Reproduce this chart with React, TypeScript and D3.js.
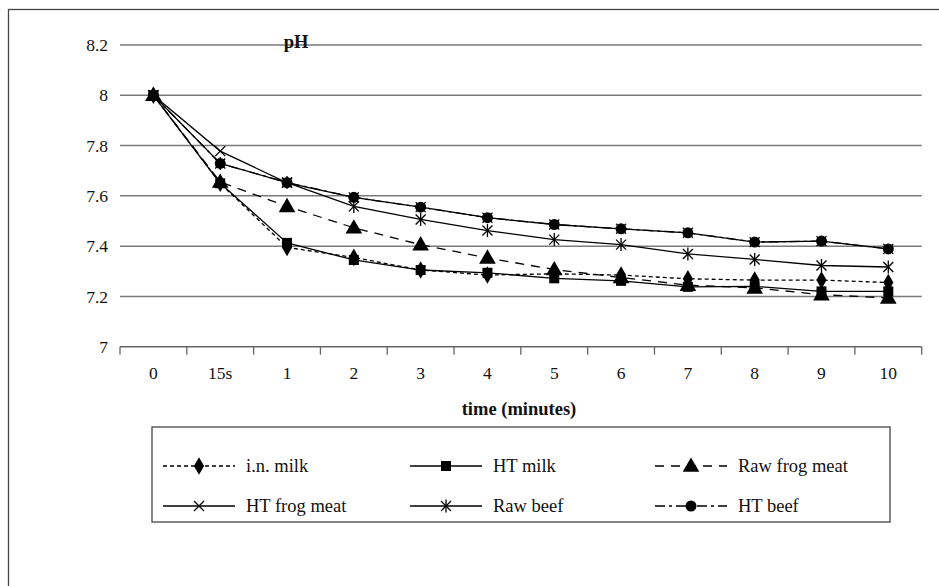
import React from 'react';
import * as d3 from 'd3';

const categories = ['0', '15s', '1', '2', '3', '4', '5', '6', '7', '8', '9', '10'];
const yTickValues = [7, 7.2, 7.4, 7.6, 7.8, 8, 8.2];

const inMilk = [8, 7.65, 7.395, 7.355, 7.305, 7.285, 7.29, 7.285, 7.27, 7.265, 7.265, 7.255];
const htMilk = [8, 7.65, 7.413, 7.345, 7.305, 7.294, 7.272, 7.262, 7.238, 7.24, 7.22, 7.22];
const rawFrogMeat = [8, 7.655, 7.558, 7.473, 7.406, 7.353, 7.307, 7.275, 7.245, 7.234, 7.207, 7.194];
const htFrogMeat = [8, 7.778, 7.652, 7.594, 7.555, 7.513, 7.486, 7.469, 7.453, 7.416, 7.42, 7.389];
const rawBeef = [8, 7.729, 7.653, 7.558, 7.506, 7.462, 7.426, 7.406, 7.369, 7.347, 7.323, 7.317];
const htBeef = [8, 7.729, 7.653, 7.594, 7.555, 7.513, 7.486, 7.469, 7.453, 7.416, 7.42, 7.389];

const seriesNames = ['i.n. milk', 'HT milk', 'Raw frog meat', 'HT frog meat', 'Raw beef', 'HT beef'];

type Marker = 'diamond' | 'square' | 'triangle' | 'x' | 'star' | 'circle';

const series: { name: string; values: number[]; dash: string | undefined; marker: Marker }[] = [
  { name: seriesNames[0], values: inMilk, dash: '4,3', marker: 'diamond' },
  { name: seriesNames[1], values: htMilk, dash: undefined, marker: 'square' },
  { name: seriesNames[2], values: rawFrogMeat, dash: '9,7', marker: 'triangle' },
  { name: seriesNames[3], values: htFrogMeat, dash: undefined, marker: 'x' },
  { name: seriesNames[4], values: rawBeef, dash: undefined, marker: 'star' },
  { name: seriesNames[5], values: htBeef, dash: '10,4,3,4', marker: 'circle' },
];

const W = 939;
const H = 586;
const FONT = '"Liberation Serif", "DejaVu Serif", "Times New Roman", serif';
const plot = { left: 120, right: 921.7, top: 45, bottom: 346.7 };

function MarkerShape({ type, cx, cy }: { type: Marker; cx: number; cy: number }) {
  const sw = 1.3;
  switch (type) {
    case 'diamond':
      return <path d={d3.symbol().type(d3.symbolDiamond).size(90)()!} transform={`translate(${cx},${cy})`} fill="#000" />;
    case 'square':
      return <rect x={cx - 5} y={cy - 5} width={10} height={10} fill="#000" />;
    case 'triangle':
      return <path d={d3.symbol().type(d3.symbolTriangle).size(120)()!} transform={`translate(${cx},${cy + 1})`} fill="#000" />;
    case 'circle':
      return <circle cx={cx} cy={cy} r={5.5} fill="#000" />;
    case 'x':
      return (
        <g stroke="#000" strokeWidth={sw}>
          <line x1={cx - 5} y1={cy - 5} x2={cx + 5} y2={cy + 5} />
          <line x1={cx - 5} y1={cy + 5} x2={cx + 5} y2={cy - 5} />
        </g>
      );
    case 'star':
      return (
        <g stroke="#000" strokeWidth={sw}>
          <line x1={cx - 5} y1={cy - 5} x2={cx + 5} y2={cy + 5} />
          <line x1={cx - 5} y1={cy + 5} x2={cx + 5} y2={cy - 5} />
          <line x1={cx} y1={cy - 6.5} x2={cx} y2={cy + 6.5} />
        </g>
      );
  }
  return null;
}

export default function App() {
  const x = d3.scaleBand<string>().domain(categories).range([plot.left, plot.right]);
  const y = d3.scaleLinear().domain([7, 8.2]).range([plot.bottom, plot.top]);
  const cx = (i: number) => (x(categories[i]) as number) + x.bandwidth() / 2;
  const line = d3
    .line<number>()
    .x((_, i) => cx(i))
    .y((d) => y(d));

  const boundaries = categories.map((c) => x(c) as number).concat([plot.right]);

  const legend = { x: 152, y: 427, w: 738, h: 95 };
  const colX = [163, 410, 655];
  const rowY = [466, 506];
  const sampleLen = 72;
  const ts = { fontFamily: FONT };

  return (
    <svg width={W} height={H} style={{ position: 'absolute', left: 0, top: 0, background: '#fff', fontFamily: FONT }}>
      <rect x={0} y={0} width={W} height={H} fill="#fff" />
      <rect x={8.5} y={9.5} width={W + 20} height={H + 20} fill="none" stroke="#444" strokeWidth={1.3} />

      {yTickValues
        .filter((v) => v > 7)
        .map((v) => (
          <line key={v} x1={plot.left} x2={plot.right} y1={y(v)} y2={y(v)} stroke="#7a7a7a" strokeWidth={1.5} />
        ))}

      {yTickValues.map((v) => (
        <text key={v} x={108} y={y(v)} dy="0.35em" textAnchor="end" fontSize={17.5} fill="#111" style={ts}>
          {d3.format('~g')(v)}
        </text>
      ))}

      <line x1={plot.left} x2={plot.right} y1={plot.bottom} y2={plot.bottom} stroke="#666" strokeWidth={1.5} />
      {boundaries.map((b, i) => (
        <line key={i} x1={b} x2={b} y1={plot.bottom} y2={plot.bottom + 8} stroke="#666" strokeWidth={1.3} />
      ))}
      {categories.map((c, i) => (
        <text key={c} x={cx(i)} y={379} textAnchor="middle" fontSize={17.5} fill="#111" style={ts}>
          {c}
        </text>
      ))}
      <text x={519} y={415} textAnchor="middle" fontSize={18.5} fontWeight="bold" fill="#111" style={ts}>
        time (minutes)
      </text>
      <text x={296} y={48} textAnchor="middle" fontSize={18.5} fontWeight="bold" fill="#111" style={ts}>
        pH
      </text>

      {series.map((s) => (
        <path key={s.name} d={line(s.values)!} fill="none" stroke="#000" strokeWidth={1.3} strokeDasharray={s.dash} />
      ))}
      {series.map((s) => (
        <g key={s.name + '-m'}>
          {s.values.map((v, i) => (
            <MarkerShape key={i} type={s.marker} cx={cx(i)} cy={y(v)} />
          ))}
        </g>
      ))}

      <rect x={legend.x} y={legend.y} width={legend.w} height={legend.h} fill="#fff" stroke="#444" strokeWidth={1.3} />
      {series.map((s, k) => {
        const col = k % 3;
        const row = Math.floor(k / 3);
        const lx = colX[col];
        const ly = rowY[row];
        return (
          <g key={s.name + '-l'}>
            <line x1={lx} x2={lx + sampleLen} y1={ly} y2={ly} stroke="#000" strokeWidth={1.3} strokeDasharray={s.dash} />
            <MarkerShape type={s.marker} cx={lx + sampleLen / 2} cy={ly} />
            <text x={lx + 83} y={ly} dy="0.33em" fontSize={18.5} fill="#111" style={ts}>
              {s.name}
            </text>
          </g>
        );
      })}
    </svg>
  );
}
